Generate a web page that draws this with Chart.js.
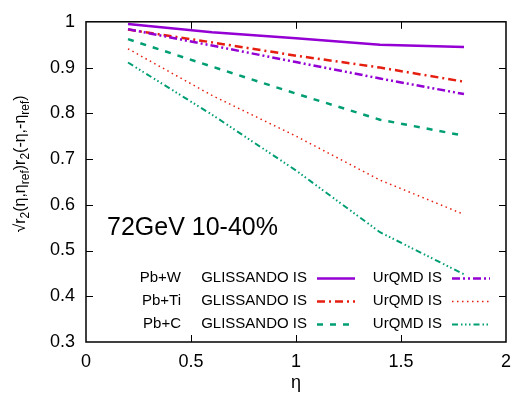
<!DOCTYPE html>
<html>
<head>
<meta charset="utf-8">
<script src="https://cdn.jsdelivr.net/npm/chart.js@4/dist/chart.umd.min.js"></script>
<style>
  html, body { margin: 0; padding: 0; background: #fff; }
  canvas { display: block; }
</style>
</head>
<body>
<canvas id="chart" width="520" height="399"></canvas>
<script>
const ETA = [0.2, 0.6, 1.0, 1.4, 1.8];
const GLISSANDO_W = [0.995, 0.977, 0.964, 0.950, 0.945];
const URQMD_W = [0.984, 0.948, 0.912, 0.876, 0.842];
const GLISSANDO_TI = [0.983, 0.955, 0.926, 0.900, 0.869];
const URQMD_TI = [0.941, 0.839, 0.750, 0.654, 0.579];
const GLISSANDO_C = [0.962, 0.902, 0.843, 0.786, 0.751];
const URQMD_C = [0.911, 0.797, 0.675, 0.540, 0.448];

const X_TICKS = [0, 0.5, 1, 1.5, 2];
const Y_TICKS = [0.3, 0.4, 0.5, 0.6, 0.7, 0.8, 0.9, 1];
const SYSTEMS = ['Pb+W', 'Pb+Ti', 'Pb+C'];
const MODELS = ['GLISSANDO IS', 'UrQMD IS'];
const ANNOTATION = '72GeV 10-40%';

const FONT = '"Liberation Sans", Arial, sans-serif';
const PURPLE = '#9400d3';
const RED = '#e51e10';
const GREEN = '#009e73';

function series(values) {
  return ETA.map((x, i) => ({ x, y: values[i] }));
}

function lineDataset(label, values, color, dash, width = 2.5) {
  return {
    label,
    data: series(values),
    borderColor: color,
    backgroundColor: color,
    borderWidth: width,
    borderDash: dash,
    pointRadius: 0,
    tension: 0,
    fill: false,
  };
}

// key rows: glissando then urqmd for each system
const datasets = [
  lineDataset('Pb+W GLISSANDO IS', GLISSANDO_W, PURPLE, []),
  lineDataset('Pb+W UrQMD IS', URQMD_W, PURPLE, [8, 3, 2, 3, 2, 3]),
  lineDataset('Pb+Ti GLISSANDO IS', GLISSANDO_TI, RED, [8, 4, 2, 4]),
  lineDataset('Pb+Ti UrQMD IS', URQMD_TI, RED, [1.5, 3.5], 1.5),
  lineDataset('Pb+C GLISSANDO IS', GLISSANDO_C, GREEN, [6, 7]),
  lineDataset('Pb+C UrQMD IS', URQMD_C, GREEN, [6, 3, 1.5, 2.5, 1.5, 2.5, 1.5, 3], 2),
];

const frame = {
  id: 'frame',
  afterDraw(chart) {
    const { ctx, chartArea: a, scales } = chart;
    const tick = 7;
    ctx.save();
    ctx.strokeStyle = '#000';
    ctx.lineWidth = 1.5;
    ctx.strokeRect(a.left, a.top, a.right - a.left, a.bottom - a.top);
    ctx.lineWidth = 1;
    ctx.beginPath();
    X_TICKS.slice(1, -1).forEach((v) => {
      const x = Math.round(scales.x.getPixelForValue(v)) + 0.5;
      ctx.moveTo(x, a.bottom); ctx.lineTo(x, a.bottom - tick);
      ctx.moveTo(x, a.top); ctx.lineTo(x, a.top + tick);
    });
    Y_TICKS.slice(1, -1).forEach((v) => {
      const y = Math.round(scales.y.getPixelForValue(v)) + 0.5;
      ctx.moveTo(a.left, y); ctx.lineTo(a.left + tick, y);
      ctx.moveTo(a.right, y); ctx.lineTo(a.right - tick, y);
    });
    ctx.stroke();

    // annotation
    ctx.fillStyle = '#000';
    ctx.font = `25px ${FONT}`;
    ctx.textAlign = 'left';
    ctx.textBaseline = 'middle';
    ctx.fillText(ANNOTATION, scales.x.getPixelForValue(0.1), scales.y.getPixelForValue(0.548));

    // key
    ctx.font = `15px ${FONT}`;
    ctx.textAlign = 'right';
    SYSTEMS.forEach((name, row) => {
      const y = a.bottom - 64 + row * 23;
      ctx.fillStyle = '#000';
      ctx.fillText(name, a.left + 95, y);
      MODELS.forEach((model, col) => {
        const textEnd = a.left + 221 + col * 135;
        const sample = [textEnd + 10, textEnd + 48];
        ctx.fillStyle = '#000';
        ctx.fillText(model, textEnd, y);
        const ds = chart.data.datasets[row * 2 + col];
        ctx.save();
        ctx.strokeStyle = ds.borderColor;
        ctx.lineWidth = ds.borderWidth;
        ctx.setLineDash(ds.borderDash);
        ctx.beginPath();
        ctx.moveTo(sample[0], y + 0.5);
        ctx.lineTo(sample[1], y + 0.5);
        ctx.stroke();
        ctx.restore();
      });
    });

    // y axis title with subscripts
    const parts = [
      ['√r', 0], ['2', 1], ['(η,η', 0], ['ref', 1], [')r', 0], ['2', 1], ['(-η,-η', 0], ['ref', 1], [')', 0],
    ];
    const main = `16px ${FONT}`;
    const sub = `12px ${FONT}`;
    let total = 0;
    parts.forEach(([t, s]) => { ctx.font = s ? sub : main; total += ctx.measureText(t).width; });
    ctx.translate(25, 164);
    ctx.rotate(-Math.PI / 2);
    ctx.textAlign = 'left';
    ctx.textBaseline = 'alphabetic';
    ctx.fillStyle = '#000';
    let pos = -total / 2;
    parts.forEach(([t, s]) => {
      ctx.font = s ? sub : main;
      ctx.fillText(t, pos, s ? 4 : 0);
      pos += ctx.measureText(t).width;
    });
    ctx.restore();
  },
};

new Chart(document.getElementById('chart'), {
  type: 'line',
  data: { datasets },
  options: {
    responsive: false,
    animation: false,
    devicePixelRatio: 1,
    layout: { padding: { top: 14, right: 9, left: 0, bottom: 0 } },
    plugins: { legend: { display: false }, tooltip: { enabled: false } },
    scales: {
      x: {
        type: 'linear',
        min: 0,
        max: 2,
        afterBuildTicks: (scale) => { scale.ticks = X_TICKS.map((value) => ({ value })); },
        afterFit: (scale) => { scale.height = 57; },
        grid: { display: false, drawTicks: false },
        border: { display: false },
        ticks: { color: '#000', padding: 9, font: { family: FONT, size: 18 }, maxRotation: 0, callback: (v) => String(v) },
        title: { display: true, text: 'η', color: '#000', font: { family: FONT, size: 18 }, padding: { top: 0, bottom: 5 } },
      },
      y: {
        type: 'linear',
        min: 0.3,
        max: 1,
        afterBuildTicks: (scale) => { scale.ticks = Y_TICKS.map((value) => ({ value })); },
        afterFit: (scale) => { scale.width = 86; },
        grid: { display: false, drawTicks: false },
        border: { display: false },
        ticks: { color: '#000', padding: 11, font: { family: FONT, size: 18 }, callback: (v) => String(v) },
      },
    },
  },
  plugins: [frame],
});
</script>
</body>
</html>
